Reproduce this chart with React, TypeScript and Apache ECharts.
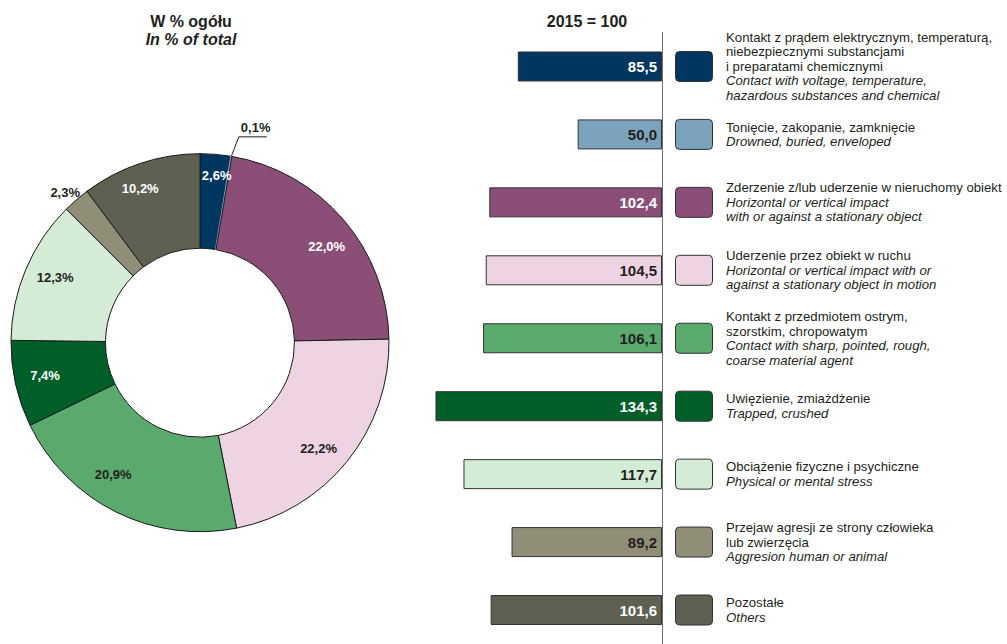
import React, { useEffect, useRef } from 'react';
import * as echarts from 'echarts';

// ---- data ----
const plLabels: string[] = [
  'Kontakt z prądem elektrycznym, temperaturą,\nniebezpiecznymi substancjami\ni preparatami chemicznymi',
  'Tonięcie, zakopanie, zamknięcie',
  'Zderzenie z/lub uderzenie w nieruchomy obiekt',
  'Uderzenie przez obiekt w ruchu',
  'Kontakt z przedmiotem ostrym,\nszorstkim, chropowatym',
  'Uwięzienie, zmiażdżenie',
  'Obciążenie fizyczne i psychiczne',
  'Przejaw agresji ze strony człowieka\nlub zwierzęcia',
  'Pozostałe',
];
const enLabels: string[] = [
  'Contact with voltage, temperature,\nhazardous substances and chemical',
  'Drowned, buried, enveloped',
  'Horizontal or vertical impact\nwith or against a stationary object',
  'Horizontal or vertical impact with or\nagainst a stationary object in motion',
  'Contact with sharp, pointed, rough,\ncoarse material agent',
  'Trapped, crushed',
  'Physical or mental stress',
  'Aggresion human or animal',
  'Others',
];
const sharePct: number[] = [2.6, 0.1, 22.0, 22.2, 20.9, 7.4, 12.3, 2.3, 10.2];
const index2015: number[] = [85.5, 50.0, 102.4, 104.5, 106.1, 134.3, 117.7, 89.2, 101.6];
const colors: string[] = [
  '#00365f', '#7ba3bd', '#8b4f77', '#eed3e2', '#5aaa6d',
  '#005f28', '#d4ecd5', '#918e78', '#5e6152',
];

// ---- styling constants ----
const FONT = '"Liberation Sans", Arial, Helvetica, sans-serif';
const TEXT = '#231f20';
const CX = 200;
const CY = 342.7;
const R0 = 94.5;
const R1 = 189;
// label placement per slice: [radius, angle shift in degrees]
const labelPlace: Record<number, [number, number]> = {
  0: [168, 1],
  2: [159, 3.5],
  3: [159, 2.9],
  4: [158, 6.9],
  5: [158.5, 0.5],
  6: [159, 1.5],
  7: [202, -1],
  8: [165.5, -2.8],
};

const fmt = (v: number) => v.toFixed(1).replace('.', ',');
const textOn = (hex: string) => {
  const r = parseInt(hex.slice(1, 3), 16);
  const g = parseInt(hex.slice(3, 5), 16);
  const b = parseInt(hex.slice(5, 7), 16);
  return (0.299 * r + 0.587 * g + 0.114 * b) / 255 < 0.5 ? '#ffffff' : TEXT;
};
const total = sharePct.reduce((a, b) => a + b, 0);
const midAngle = (i: number) => {
  let c = 0;
  for (let k = 0; k < i; k++) c += sharePct[k];
  return ((c + sharePct[i] / 2) / total) * 2 * Math.PI;
};
const polar = (r: number, a: number): [number, number] => [CX + r * Math.sin(a), CY - r * Math.cos(a)];

export default function App() {
  const ref = useRef<HTMLDivElement>(null);
  useEffect(() => {
    if (!ref.current) return;
    const chart = echarts.init(ref.current, undefined, { renderer: 'svg' });
    const option: any = {
      animation: false,
      backgroundColor: '#ffffff',
      textStyle: { fontFamily: FONT },
      graphic: [
        {
          type: 'text', x: 191, y: 21.5, silent: true,
          style: { text: 'W % ogółu', font: `bold 16px ${FONT}`, fill: TEXT, align: 'center', verticalAlign: 'middle', textAlign: 'center', textVerticalAlign: 'middle' },
        },
        {
          type: 'text', x: 191, y: 39.5, silent: true,
          style: { text: 'In % of total', font: `italic bold 16px ${FONT}`, fill: TEXT, align: 'center', verticalAlign: 'middle', textAlign: 'center', textVerticalAlign: 'middle' },
        },
        {
          type: 'text', x: 587, y: 21.5, silent: true,
          style: { text: '2015 = 100', font: `bold 16px ${FONT}`, fill: TEXT, align: 'center', verticalAlign: 'middle', textAlign: 'center', textVerticalAlign: 'middle' },
        },
      ],
      grid: { left: 409, right: 345, top: 32.5, height: 615.5 },
      xAxis: { type: 'value', inverse: true, min: 0, max: 150, show: false },
      yAxis: {
        type: 'category',
        data: plLabels,
        inverse: true,
        position: 'right',
        axisLine: { show: true, lineStyle: { color: '#6d6e71', width: 1 } },
        axisTick: { show: false },
        splitLine: { show: false },
        axisLabel: {
          interval: 0,
          margin: 64,
          align: 'left',
          formatter: (_v: string, i: number) => {
            const pl = plLabels[i].split('\n').map((l) => `{pl|${l}}`);
            const en = enLabels[i].split('\n').map((l) => `{en|${l}}`);
            return [...pl, ...en].join('\n');
          },
          rich: {
            pl: { fontSize: 13.2, lineHeight: 14.5, color: TEXT, fontFamily: FONT },
            en: { fontSize: 13.2, lineHeight: 14.5, color: TEXT, fontFamily: FONT, fontStyle: 'italic' },
          },
        },
      },
      series: [
        {
          type: 'pie',
          center: [CX, CY],
          radius: [R0, R1],
          startAngle: 90,
          clockwise: true,
          avoidLabelOverlap: false,
          silent: true,
          emphasis: { disabled: true },
          itemStyle: { borderColor: '#1a1a1a', borderWidth: 1 },
          label: {
            show: true,
            fontSize: 13,
            fontWeight: 'bold',
            fontFamily: FONT,
            formatter: (p: any) => `${fmt(p.value)}%`,
          },
          labelLine: { lineStyle: { color: TEXT, width: 1 }, length: 20, length2: 28 },
          labelLayout: (params: any) => {
            const i = params.dataIndex;
            const a = midAngle(i);
            if (i === 1) {
              const p0 = polar(R1, a);
              const p1 = polar(R1 + 20.5, a + 0.02);
              const p2: [number, number] = [p1[0] + 28, p1[1]];
              return {
                x: p1[0] + 2, y: p1[1] - 9, align: 'left', verticalAlign: 'middle',
                labelLinePoints: [p0, p1, p2],
              };
            }
            const [r, shift] = labelPlace[i] ?? [159, 0];
            const p = polar(r, a + (shift * Math.PI) / 180);
            return { x: p[0], y: p[1], align: 'center', verticalAlign: 'middle' };
          },
          data: sharePct.map((v, i) => ({
            value: v,
            name: plLabels[i],
            itemStyle: i === 1 ? { color: colors[i], borderColor: colors[i] } : { color: colors[i] },
            label: {
              position: i === 1 || i === 7 ? 'outside' : 'inside',
              color: i === 1 || i === 7 ? TEXT : textOn(colors[i]),
            },
            labelLine: { show: i === 1 },
          })),
        },
        {
          type: 'bar',
          barWidth: 30,
          silent: true,
          itemStyle: { borderColor: '#333333', borderWidth: 1 },
          label: {
            show: true,
            position: 'insideRight',
            distance: 5,
            fontSize: 15,
            fontWeight: 'bold',
            fontFamily: FONT,
            formatter: (p: any) => fmt(p.value),
          },
          data: index2015.map((v, i) => ({
            value: v,
            itemStyle: { color: colors[i] },
            label: { color: textOn(colors[i]) },
          })),
        },
        {
          type: 'custom',
          silent: true,
          data: plLabels.map((c) => [0, c]),
          encode: { x: 0, y: 1 },
          renderItem: (params: any, api: any) => {
            const i = params.dataIndex;
            const p = api.coord([0, i]);
            return {
              type: 'rect',
              shape: { x: p[0] + 13.5, y: p[1] - 15, width: 37, height: 30, r: 4 },
              style: { fill: colors[i], stroke: '#333333', lineWidth: 1 },
            };
          },
        },
      ],
    };
    chart.setOption(option);
    return () => chart.dispose();
  }, []);
  return (
    <div
      ref={ref}
      style={{ position: 'fixed', left: 0, top: 0, width: 1007, height: 644, background: '#fff' }}
    />
  );
}
